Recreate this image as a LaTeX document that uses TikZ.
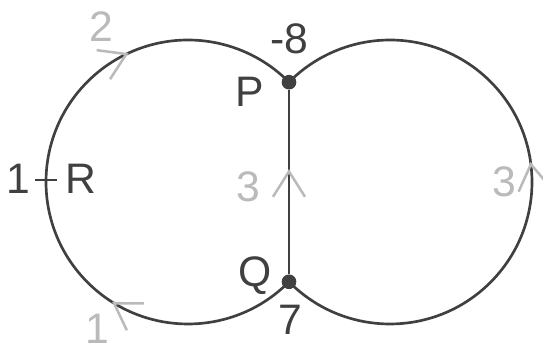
\documentclass[tikz,border=0pt]{standalone}
\usepackage{fontspec}
\setmainfont{Liberation Sans}
\usetikzlibrary{arrows.meta,decorations.markings}
\definecolor{netDark}{HTML}{404040}
\definecolor{netGray}{HTML}{BABABA}
\tikzset{
  net edge/.style={draw=netDark, line width=2pt},
  net dot/.style={circle, fill=netDark, minimum size=11pt, inner sep=0pt},
  net label/.style={font=\fontsize{32}{38}\selectfont, text=netDark, inner sep=0pt},
  net weight/.style={font=\fontsize{32}{38}\selectfont, text=netGray, inner sep=0pt},
  net flow/.tip={Straight Barb[length=19pt, width=24pt, line width=1.9pt, color=netGray]},
  flow at/.style={postaction={decorate, decoration={markings, mark=at position #1 with {\arrow{net flow}}}}},
}

\begin{document}
\begin{tikzpicture}[x=0.75pt,y=0.75pt]
  \useasboundingbox (0,0) rectangle (543,349);
  % junctions and the point R
  \node[net dot] (P) at (289,266.8) {};
  \node[net dot] (Q) at (289,67.2) {};
  \coordinate (R) at (46,169);
  % the two loops and the chord, all running from Q to P
  \draw[net edge, flow at=0.287, flow at=0.741] (Q) arc[start angle=-44.66, delta angle=-270.68, radius=142];
  \draw[net edge, flow at=0.53] (Q) arc[start angle=224.66, delta angle=270.68, radius=142];
  \draw[net edge, flow at=0.57] (Q) -- (P);
  \draw[net edge] ([xshift=-8pt]R) -- ([xshift=8pt]R);
  % labels
  \node[net label] (lblNeg) at (289,310) {-8};
  \node[net label] (lblP) at (250,257) {P};
  \node[net label] (lblQ) at (255,73) {Q};
  \node[net label] (lblSeven) at (290,29) {7};
  \node[net label] (lblOne) at (18,170) {1};
  \node[net label] (lblR) at (81,170) {R};
  % weights
  \node[net weight] (wTop) at (101,322) {2};
  \node[net weight] (wBottom) at (97,20) {1};
  \node[net weight] (wChord) at (248,162) {3};
  \node[net weight] (wRight) at (504,167) {3};
\end{tikzpicture}
\end{document}
